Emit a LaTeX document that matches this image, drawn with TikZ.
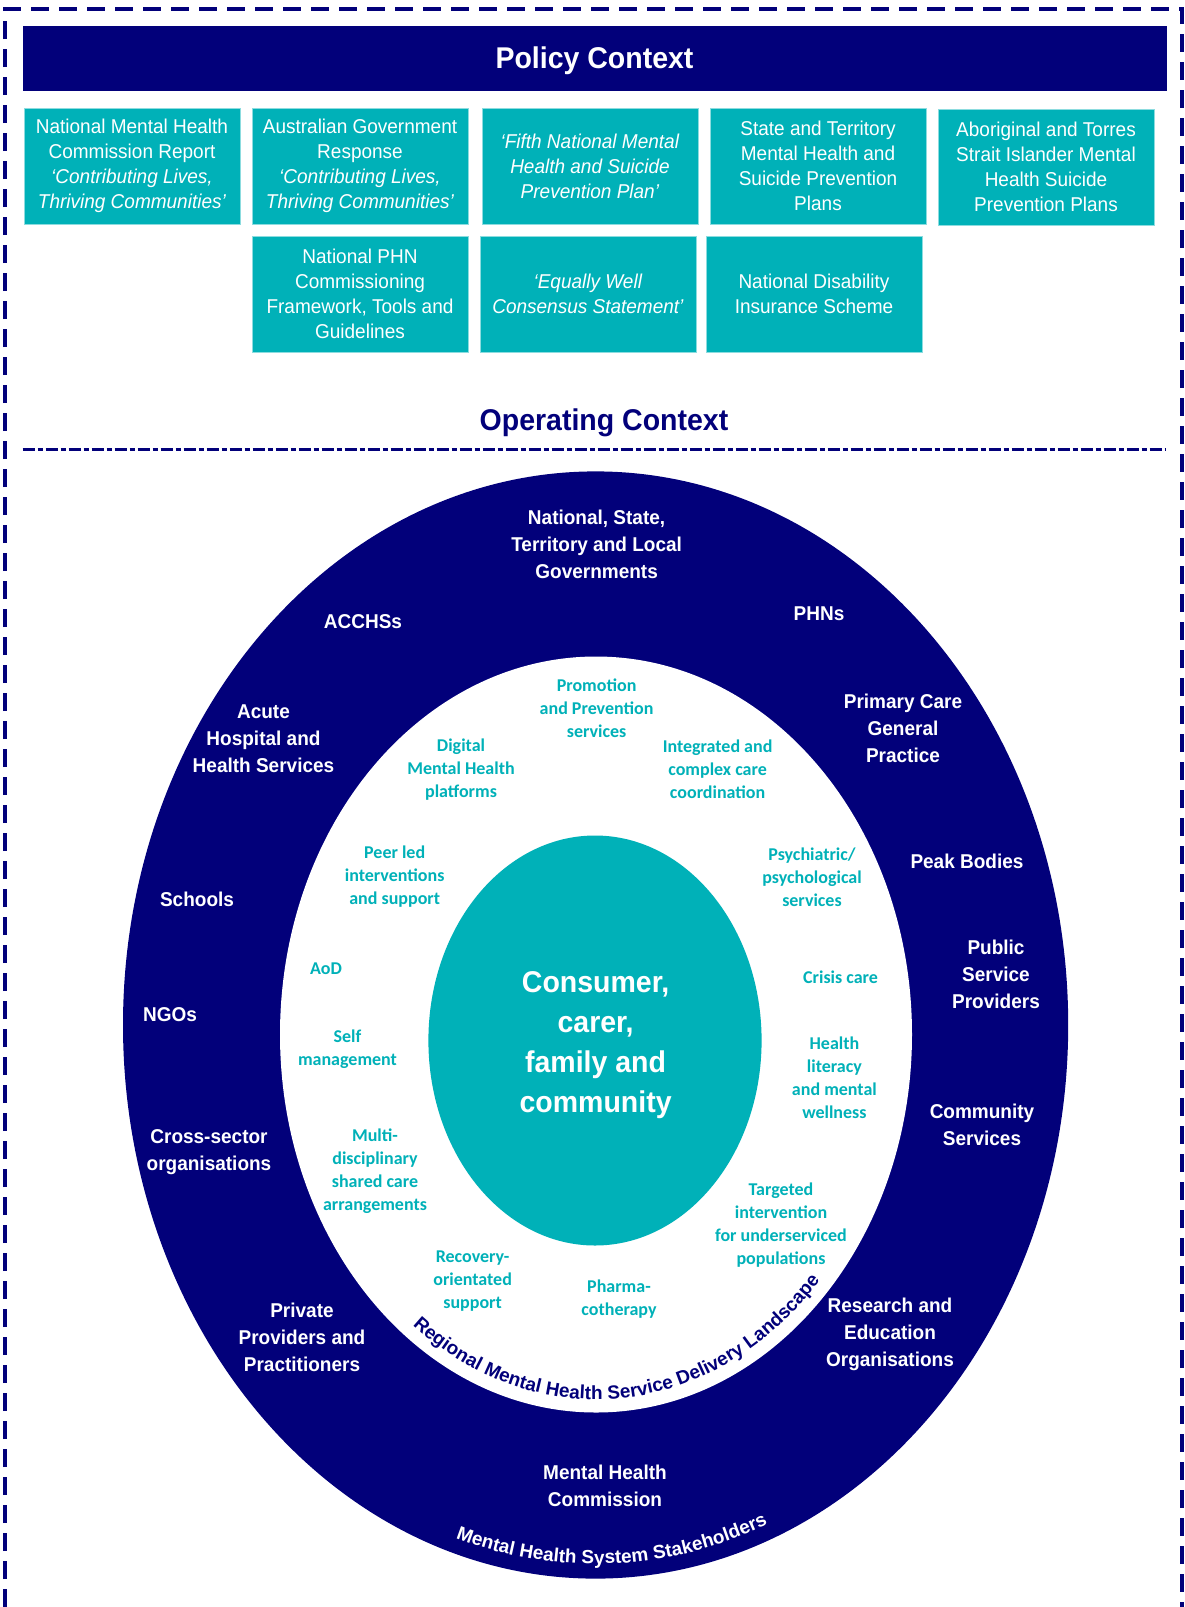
\documentclass[tikz,border=0pt]{standalone}
\usepackage{fontspec}
\setmainfont{Liberation Sans}[FakeStretch=0.95]
\newfontfamily\arcfont{Liberation Sans}
\newfontfamily\svcfont{Carlito}
\usetikzlibrary{decorations.text}
\definecolor{pcnavy}{RGB}{2,0,122}
\definecolor{pcteal}{RGB}{0,177,184}
\def\arctext{\path[decorate,decoration={text along path,text align=center,text color=pcnavy,
  text={|\arcfont\bfseries\fontsize{19}{19}\selectfont|Regional Mental Health Service Delivery Landscape}}]}
\def\rimtext{\path[decorate,decoration={text along path,text align=center,text color=white,
  text={|\arcfont\bfseries\fontsize{19}{19}\selectfont|Mental Health System Stakeholders}}]}

\tikzset{
  banner/.style={fill=pcnavy,text=white,minimum width=1144,minimum height=65,inner sep=0,
    text depth=0pt,font=\bfseries\fontsize{30}{36}\selectfont},
  policy/.style={fill=pcteal,draw=pcteal!45,line width=1,text=white,minimum width=216,
    minimum height=116,inner sep=0,align=center,font=\fontsize{20}{25}\selectfont},
  stake/.style={text=white,align=center,font=\bfseries\fontsize{20}{27}\selectfont},
  service/.style={text=pcteal,align=center,font=\svcfont\bfseries\fontsize{18}{23}\selectfont},
}

\begin{document}
\begin{tikzpicture}[x=1pt,y=-1pt]
\useasboundingbox (0,0) rectangle (1184,1607);
\draw[pcnavy,line width=4.5,dash pattern=on 18pt off 10pt] (5,1607) -- (5,9) -- (1182,9) -- (1182,1607);

% policy layer
\node[banner] (policy) at (594.5,58) {Policy Context};
\node[policy] (nmhc) at (132,166) {National Mental Health\\Commission Report\\\textit{‘Contributing Lives,}\\\textit{Thriving Communities’}};
\node[policy] (govresp) at (360,166) {Australian Government\\Response\\\textit{‘Contributing Lives,}\\\textit{Thriving Communities’}};
\node[policy] (fifth) at (590,166) {\textit{‘Fifth National Mental}\\\textit{Health and Suicide}\\\textit{Prevention Plan’}};
\node[policy] (stateplans) at (818,166) {State and Territory\\Mental Health and\\Suicide Prevention\\Plans};
\node[policy] (atsi) at (1046,167) {Aboriginal and Torres\\Strait Islander Mental\\Health Suicide\\Prevention Plans};
\node[policy] (phnframe) at (360,294) {National PHN\\Commissioning\\Framework, Tools and\\Guidelines};
\node[policy] (equally) at (588,294) {\textit{‘Equally Well}\\\textit{Consensus Statement’}};
\node[policy] (ndis) at (814,294) {National Disability\\Insurance Scheme};

\node[text=pcnavy,font=\bfseries\fontsize{30}{36}\selectfont] (operating) at (604,423) {Operating Context};
\draw[pcnavy,line width=3,dash pattern=on 12pt off 3pt on 5pt off 3pt] (22.5,449) -- (1166,449);

% rings
\fill[pcnavy] (595.6,1025) ellipse [x radius=472.6,y radius=553.6];
\fill[white] (596,1034.5) ellipse [x radius=316,y radius=378];
\fill[pcteal] (595,1040.5) ellipse [x radius=166.6,y radius=205];
\arctext (596,1034.5) ++(142:303 and 365) arc [start angle=142,end angle=28,x radius=303,y radius=365];
\rimtext (595.6,1025) ++(132:457 and 539) arc [start angle=132,end angle=44,x radius=457,y radius=539];

% stakeholders
\node[stake] (gov) at (596.6,544) {National, State,\\Territory and Local\\Governments};
\node[stake] (phn) at (819,614) {PHNs};
\node[stake] (acchs) at (363,622) {ACCHSs};
\node[stake] (acute) at (263.5,739) {Acute\\Hospital and\\Health Services};
\node[stake] (primary) at (903,728) {Primary Care\\General\\Practice};
\node[stake] (peak) at (967,861) {Peak Bodies};
\node[stake] (schools) at (197,899) {Schools};
\node[stake] (public) at (996,974) {Public\\Service\\Providers};
\node[stake] (ngo) at (170,1015) {NGOs};
\node[stake] (community) at (982,1124.5) {Community\\Services};
\node[stake] (crosssector) at (209,1152) {Cross-sector\\organisations};
\node[stake] (research) at (890,1334) {Research and\\Education\\Organisations};
\node[stake] (private) at (302,1337) {Private\\Providers and\\Practitioners};
\node[stake] (mhc) at (605,1486) {Mental Health\\Commission};

% services
\node[service] (promotion) at (596.6,708) {Promotion\\and Prevention\\services};
\node[service] (digital) at (461,770) {Digital\\Mental Health\\platforms};
\node[service] (integrated) at (717.6,769) {Integrated and\\complex care\\coordination};
\node[service] (peer) at (394.7,876.5) {Peer led\\interventions\\and support};
\node[service] (psych) at (812,877.5) {Psychiatric/\\psychological\\services};
\node[service] (aod) at (326,969) {AoD};
\node[service] (crisis) at (840.6,977) {Crisis care};
\node[service] (selfmgmt) at (347.5,1049) {Self\\management};
\node[service] (literacy) at (834.4,1078) {Health\\literacy\\and mental\\wellness};
\node[service] (multi) at (375,1171) {Multi-\\disciplinary\\shared care\\arrangements};
\node[service] (targeted) at (781,1225) {Targeted\\intervention\\for underserviced\\populations};
\node[service] (recovery) at (472.6,1281) {Recovery-\\orientated\\support};
\node[service] (pharma) at (619,1299) {Pharma-\\cotherapy};

\node[text=white,align=center,font=\bfseries\fontsize{30}{40}\selectfont] (consumer) at (595.6,1045.5) {Consumer,\\carer,\\family and\\community};
\end{tikzpicture}
\end{document}
